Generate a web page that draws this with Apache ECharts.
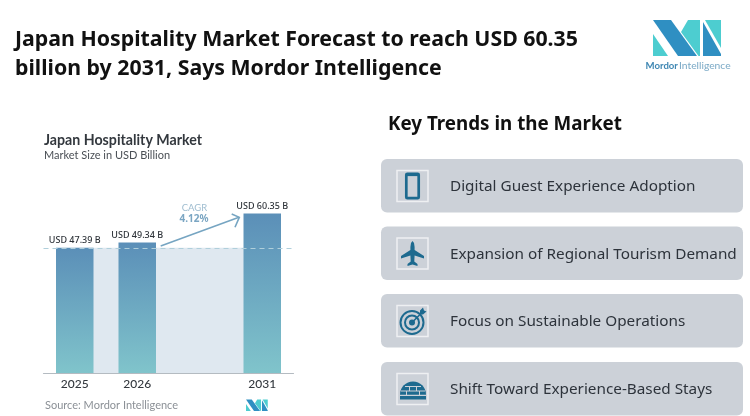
<!DOCTYPE html>
<html>
<head>
<meta charset="utf-8">
<style>
  html, body { margin: 0; padding: 0; background: #fff; }
  #chart { width: 750px; height: 416px; }
</style>
<script src="https://cdn.jsdelivr.net/npm/echarts@6/dist/echarts.min.js"></script>
</head>
<body>
<div id="chart"></div>
<script>
const categories = ['2025', '2026', '', '2031']
const marketSize = [47.39, 49.34, null, 60.35]
const baseValue = 47.39
const trends = [
  'Digital Guest Experience Adoption',
  'Expansion of Regional Tourism Demand',
  'Focus on Sustainable Operations',
  'Shift Toward Experience-Based Stays'
]
const headline = 'Japan Hospitality Market Forecast to reach USD 60.35\nbillion by 2031, Says Mordor Intelligence'

const ICON = '#1d6a8f'
const BOX = '#ccd1d8'
const font = '"Noto Sans", sans-serif'
const chartFont = 'Lato, "Noto Sans", sans-serif'

const text = (x, y, str, size, color, extra = {}) => ({
  type: 'text',
  x,
  y,
  style: {
    text: str,
    fontSize: size,
    fill: color,
    fontFamily: font,
    verticalAlign: 'middle',
    ...extra
  }
})

const poly = (points, fill) => ({ type: 'polygon', shape: { points }, style: { fill } })
const seam = (x1, y1, x2, y2) => ({ type: 'line', shape: { x1, y1, x2, y2 }, style: { stroke: BOX, lineWidth: 1 } })

const logo = (x, y, s) => ({
  type: 'group',
  x,
  y,
  scaleX: s,
  scaleY: s,
  children: [
    poly([[0, 14], [0, 36], [15, 36]], '#4dcdd0'),
    poly([[0, 0], [18, 0], [44, 36], [25, 36]], '#2f8fc2'),
    poly([[35, 0], [47, 0], [47, 36], [45.5, 36], [28, 12]], '#4dcdd0'),
    poly([[52, 0], [68, 0], [68, 28]], '#4dcdd0'),
    poly([[50, 2], [68, 34], [68, 36], [50, 36]], '#2f8fc2')
  ]
})

const icons = [
  // phone
  [
    { type: 'rect', shape: { x: 9.3, y: 3.3, width: 12.4, height: 24.4, r: 1 }, style: { fill: 'none', stroke: ICON, lineWidth: 2.7 } },
    { type: 'rect', shape: { x: 9.3, y: 3, width: 12.4, height: 2.6 }, style: { fill: ICON } }
  ],
  // plane
  [
    poly([[15.5, 3], [17, 5], [17.6, 9], [17.6, 12], [27, 18], [27, 20.5], [17.6, 17.5], [17.3, 23.5], [20.5, 26], [20.5, 28], [15.5, 26.6], [10.5, 28], [10.5, 26], [13.7, 23.5], [13.4, 17.5], [4, 20.5], [4, 18], [13.4, 12], [13.4, 9], [14, 5]], ICON)
  ],
  // target
  [
    { type: 'circle', shape: { cx: 15, cy: 17, r: 11.5 }, style: { fill: 'none', stroke: ICON, lineWidth: 2 } },
    { type: 'circle', shape: { cx: 15, cy: 17, r: 7 }, style: { fill: 'none', stroke: ICON, lineWidth: 2 } },
    { type: 'circle', shape: { cx: 15, cy: 17, r: 3 }, style: { fill: ICON } },
    { type: 'line', shape: { x1: 15, y1: 17, x2: 25, y2: 7 }, style: { stroke: ICON, lineWidth: 1.6 } },
    poly([[23, 5], [26, 2], [27, 5], [29.5, 6], [26, 9], [23, 9]], ICON)
  ],
  // igloo
  [
    { type: 'sector', shape: { cx: 16, cy: 21, r: 13, r0: 0, startAngle: Math.PI, endAngle: Math.PI * 2 }, style: { fill: ICON } },
    { type: 'rect', shape: { x: 3, y: 21, width: 26, height: 5 }, style: { fill: ICON } },
    seam(4, 17.5, 28, 17.5),
    seam(8, 13, 24, 13),
    seam(3, 22, 29, 22),
    seam(12.5, 13, 12.5, 17.5),
    seam(19.5, 13, 19.5, 17.5),
    seam(9.5, 17.5, 9.5, 22),
    seam(22.5, 17.5, 22.5, 22)
  ]
]

const boxTops = [159, 226.5, 294, 362]

const trendBoxes = trends.map((t, i) => ({
  type: 'group',
  x: 381,
  y: boxTops[i],
  children: [
    { type: 'rect', shape: { x: 0, y: 0, width: 362, height: 53.5, r: 6 }, style: { fill: BOX } },
    {
      type: 'group',
      x: 16,
      y: 11.5,
      children: [
        { type: 'rect', shape: { x: 0, y: 0, width: 31, height: 31 }, style: { fill: 'none', stroke: '#eef0f2', lineWidth: 1.5 } },
        ...icons[i]
      ]
    },
    text(69, 28, t, 15.3, '#2d333b')
  ]
}))

const myChart = echarts.init(document.getElementById('chart'))

myChart.setOption({
  animation: false,
  backgroundColor: '#fff',
  grid: { left: 43.5, width: 250, top: 188, height: 185 },
  xAxis: {
    type: 'category',
    data: categories,
    axisTick: { show: false },
    axisLine: { lineStyle: { color: '#b4bbc1', width: 1.2 } },
    axisLabel: { color: '#33383e', fontSize: 12, fontWeight: 500, fontFamily: chartFont, margin: 5, interval: 0 }
  },
  yAxis: { type: 'value', min: 0, max: 70, show: false },
  series: [
    {
      type: 'line',
      z: 1,
      data: [],
      silent: true,
      markArea: {
        silent: true,
        itemStyle: { color: '#dfe8f0' },
        data: [[{ xAxis: '2025', yAxis: 0 }, { xAxis: '2031', yAxis: baseValue }]]
      },
      markLine: {
        silent: true,
        symbol: 'none',
        label: { show: false },
        lineStyle: { color: '#b0cfdb', type: [5, 4], width: 1.2 },
        data: [{ yAxis: baseValue }]
      }
    },
    {
      type: 'bar',
      z: 3,
      barWidth: 37.5,
      data: marketSize,
      itemStyle: {
        color: new echarts.graphic.LinearGradient(0, 0, 0, 1, [
          { offset: 0, color: '#5b8fb8' },
          { offset: 1, color: '#80c4cb' }
        ])
      },
      label: {
        show: true,
        position: 'top',
        distance: 3,
        color: '#2f343a',
        fontSize: 9,
        fontWeight: 500,
        fontFamily: font,
        formatter: p => `USD ${p.value.toFixed(2)} B`
      }
    }
  ],
  graphic: [
    text(15, 54, headline, 21.3, '#111', { fontWeight: 700, lineHeight: 29 }),
    logo(653, 20, 1),
    text(645.5, 65.5, 'Mordor', 9.6, '#3f87b3', { fontWeight: 700, fontFamily: chartFont }),
    text(679, 65.5, 'Intelligence', 10.3, '#7aa9c6', { fontFamily: chartFont }),
    text(44, 140, 'Japan Hospitality Market', 14.2, '#33383e', { fontWeight: 700, fontFamily: chartFont }),
    text(44, 155, 'Market Size in USD Billion', 11, '#4a4f55', { fontFamily: chartFont }),
    text(194.5, 208, 'CAGR', 9.5, '#9fbdd0', { align: 'center', fontFamily: chartFont }),
    text(194, 219, '4.12%', 10, '#7ba6c3', { align: 'center', fontWeight: 700 }),
    {
      type: 'polyline',
      z: 5,
      shape: { points: [[160.7, 246], [239, 217.3]] },
      style: { stroke: '#76a5c2', lineWidth: 1.6, fill: 'none' }
    },
    {
      type: 'polyline',
      z: 5,
      shape: { points: [[231.7, 214], [239.3, 217.3], [235, 227.3]] },
      style: { stroke: '#76a5c2', lineWidth: 1.6, fill: 'none' }
    },
    text(45, 405, 'Source: Mordor Intelligence', 11, '#8b9096', { fontFamily: chartFont }),
    logo(246, 399.5, 0.32),
    text(388, 124.5, 'Key Trends in the Market', 18.8, '#111', { fontWeight: 700 }),
    ...trendBoxes
  ]
})
</script>
</body>
</html>
